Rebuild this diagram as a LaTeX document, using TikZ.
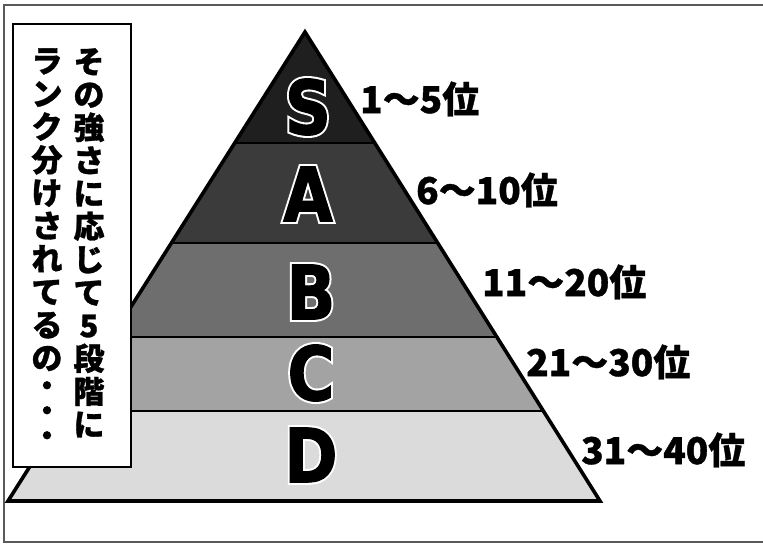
\documentclass[tikz,border=0pt]{standalone}
\usepackage{fontspec}
\newfontfamily\jpfont{Noto Sans CJK JP Black}[FakeBold=1]
\newfontfamily\dotfont{Noto Sans CJK JP Black}[FakeBold=6]
\newfontfamily\letterfont{DejaVu Sans Condensed Bold}[FakeBold=1.5]
\newfontfamily\letterhalo{DejaVu Sans Condensed Bold}[FakeBold=7]
\usetikzlibrary{calc,positioning}

\definecolor{tierS}{gray}{0.12}
\definecolor{tierA}{gray}{0.23}
\definecolor{tierB}{gray}{0.43}
\definecolor{tierC}{gray}{0.64}
\definecolor{tierD}{gray}{0.86}

% letter with a white rim
\newcommand\tierletter[1]{\scalebox{0.95}[1]{\rlap{\color{white}\letterhalo#1}#1}}
% small stacked dot
\newcommand\vdot{{\dotfont\fontsize{24}{24}\selectfont ・}}

\begin{document}
\begin{tikzpicture}[
    x=1pt, y=-1pt,
    panel/.style={draw=black!65, line width=2pt},
    divider/.style={draw=black, line width=2.4pt},
    outline/.style={draw=black, line width=3.6pt, line join=miter},
    letter/.style={inner sep=0pt, font=\letterfont\fontsize{75}{75}\selectfont},
    rank/.style={anchor=west, inner sep=0pt, font=\jpfont\fontsize{37}{37}\selectfont},
    note/.style={draw, fill=white, line width=2pt},
    vcol/.style={anchor=north, align=center, inner sep=0pt, font=\jpfont\fontsize{31}{33}\selectfont}
]
    \useasboundingbox (0,0) rectangle (763,544);
    \draw[panel] (763,5) -- (4,5) -- (4,542) -- (763,542);

    % pyramid
    \coordinate (top) at (305,32);
    \coordinate (bl) at (8,501);
    \coordinate (br) at (600,501);
    \coordinate (l1) at ($(top)!0.237!(bl)$); \coordinate (r1) at ($(top)!0.237!(br)$);
    \coordinate (l2) at ($(top)!0.450!(bl)$); \coordinate (r2) at ($(top)!0.450!(br)$);
    \coordinate (l3) at ($(top)!0.650!(bl)$); \coordinate (r3) at ($(top)!0.650!(br)$);
    \coordinate (l4) at ($(top)!0.808!(bl)$); \coordinate (r4) at ($(top)!0.808!(br)$);

    \fill[tierS] (top) -- (r1) -- (l1) -- cycle;
    \fill[tierA] (l1) -- (r1) -- (r2) -- (l2) -- cycle;
    \fill[tierB] (l2) -- (r2) -- (r3) -- (l3) -- cycle;
    \fill[tierC] (l3) -- (r3) -- (r4) -- (l4) -- cycle;
    \fill[tierD] (l4) -- (r4) -- (br) -- (bl) -- cycle;
    \draw[divider] (l1) -- (r1);
    \draw[divider] (l2) -- (r2);
    \draw[divider] (l3) -- (r3);
    \draw[divider] (l4) -- (r4);
    \draw[outline] (top) -- (br) -- (bl) -- cycle;

    \node[letter] (rankS) at (308,107) {\tierletter{S}};
    \node[letter] (rankA) at (308,194) {\tierletter{A}};
    \node[letter] (rankB) at (311,292) {\tierletter{B}};
    \node[letter] (rankC) at (311,373) {\tierletter{C}};
    \node[letter] (rankD) at (311,455) {\tierletter{D}};

    \node[rank] (placeS) at (360,99) {1〜5位};
    \node[rank] (placeA) at (416,190) {6〜10位};
    \node[rank] (placeB) at (482,282) {11〜20位};
    \node[rank] (placeC) at (526,362) {21〜30位};
    \node[rank] (placeD) at (581,450) {31〜40位};

    % caption box
    \draw[note] (13,24) rectangle (131,467);
    \node[vcol] (colR) at (89,48) {そ\\の\\強\\さ\\に\\応\\じ\\て\\5\\段\\階\\に};
    \node[vcol] (colL) at (47,48) {ラ\\ン\\ク\\分\\け\\さ\\れ\\て\\る\\の\\[-8pt]\vdot\\[-8pt]\vdot\\[-8pt]\vdot};
\end{tikzpicture}
\end{document}
